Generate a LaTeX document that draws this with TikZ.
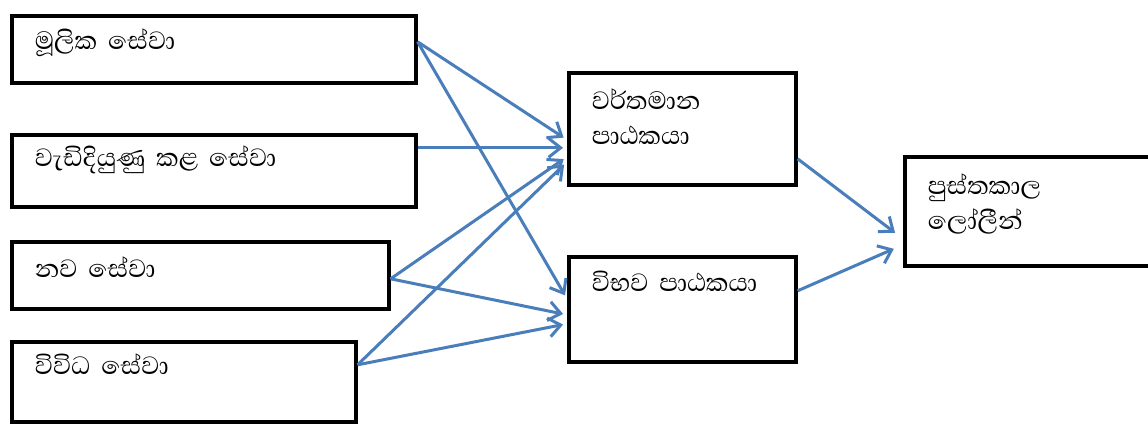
\documentclass[tikz,border=0pt]{standalone}
\usepackage{fontspec}
\newfontfamily\sinhala[Script=Sinhala]{Abhaya Libre}
\usetikzlibrary{arrows.meta}
\definecolor{arrowblue}{RGB}{74,126,187}
\tikzset{box/.style = {draw, line width = 3.6pt, anchor = north west, align = left,
                       inner xsep = 23pt, inner ysep = 0pt,
                       font = \sinhala\fontsize{32}{35}\selectfont}}
\tikzset{flow/.style = {draw = arrowblue, line width = 3pt, shorten > = 4pt,
                        -{Straight Barb[length = 12pt, width = 19pt]}}}

\begin{document}
\begin{tikzpicture}[x = 1pt, y = -1pt]
    \useasboundingbox (0, 0) rectangle (1148, 424);
    \node [box, text width = 358pt, text height = 34pt, text depth = 33pt] (mulika) at (10, 14) {මූලික සේවා};
    \node [box, text width = 358pt, text height = 32pt, text depth = 40pt] (vadi) at (10, 133) {වැඩිදියුණු කළ සේවා};
    \node [box, text width = 331pt, text height = 36pt, text depth = 31pt] (nava) at (10, 240) {නව සේවා};
    \node [box, text width = 298pt, text height = 33pt, text depth = 47pt] (vividha) at (10, 340) {විවිධ සේවා};
    \node [box, text width = 181pt, text height = 37pt, text depth = 75pt] (vartamana) at (567, 71) {වර්තමාන\\පාඨකයා};
    \node [box, text width = 181pt, text height = 35pt, text depth = 70pt] (vibhava) at (567, 255) {විභව පාඨකයා};
    \node [box, text width = 224pt, text height = 38pt, text depth = 71pt] (lolin) at (903, 155) {පුස්තකාල\\ලෝලීන්};
    \draw [flow] ([yshift = 7.5pt] mulika.east) -- ([yshift = -11pt] vartamana.west);
    \draw [flow] ([yshift = 7.5pt] mulika.east) -- ([yshift = 10.5pt] vibhava.west);
    \draw [flow] ([yshift = 23pt] vadi.east) -- ([yshift = -19pt] vartamana.west);
    \draw [flow] ([yshift = -3.5pt] nava.east) -- ([yshift = -28pt] vartamana.west);
    \draw [flow] ([yshift = -3.5pt] nava.east) -- ([yshift = -5.5pt] vibhava.west);
    \draw [flow] ([yshift = 17pt] vividha.east) -- ([yshift = -33pt] vartamana.west);
    \draw [flow] ([yshift = 17pt] vividha.east) -- ([yshift = -14.5pt] vibhava.west);
    \draw [flow, shorten > = 10pt] ([yshift = -30pt] vartamana.east) -- ([yshift = -27.5pt] lolin.west);
    \draw [flow, shorten > = 10pt] ([yshift = 18.5pt] vibhava.east) -- ([yshift = -33.5pt] lolin.west);
  \end{tikzpicture}
\end{document}
